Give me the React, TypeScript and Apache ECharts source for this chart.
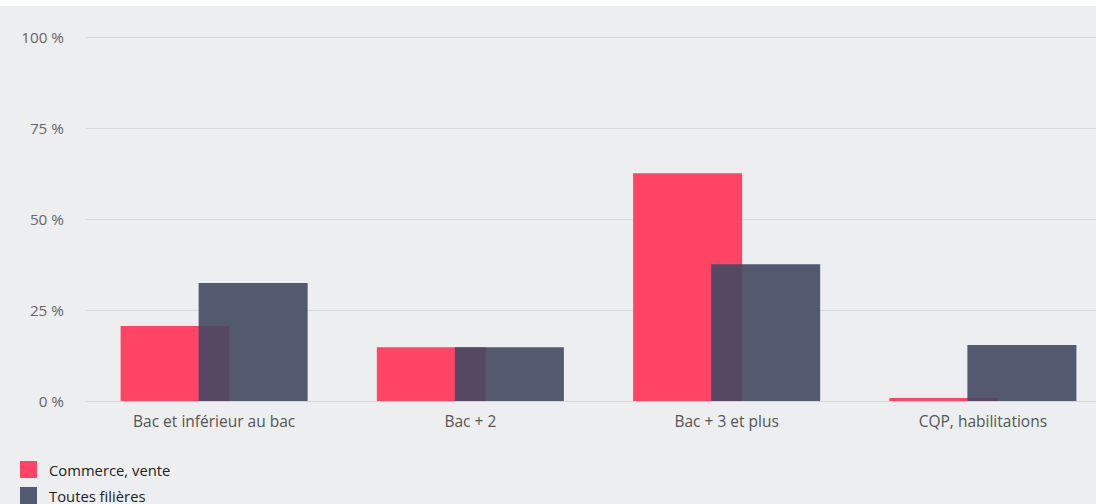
import React, { useEffect, useRef } from "react";
import * as echarts from "echarts";

const categories = ["Bac et inférieur au bac", "Bac + 2", "Bac + 3 et plus", "CQP, habilitations"];
const commerceVente = [20.6, 14.8, 62.6, 0.8];
const toutesFilieres = [32.4, 14.8, 37.6, 15.4];
const seriesNames = ["Commerce, vente", "Toutes filières"];

export default function App() {
  const ref = useRef<HTMLDivElement>(null);
  useEffect(() => {
    document.body.style.margin = "0";
    document.body.style.overflow = "hidden";
    const chart = echarts.init(ref.current!, null, { renderer: "svg" });
    const legendBase = {
      left: 20,
      itemWidth: 17,
      itemHeight: 17,
      icon: "rect",
      padding: 0,
      textStyle: { color: "#222", fontSize: 14.8, fontFamily: "Open Sans", padding: [0, 0, 0, 7] },
    };
    chart.setOption({
      animation: false,
      backgroundColor: "#eceef0",
      textStyle: { fontFamily: "Open Sans" },
      graphic: [
        { type: "rect", left: 0, top: 0, shape: { width: 1120, height: 6 }, style: { fill: "#ffffff" }, silent: true },
      ],
      legend: [
        { ...legendBase, top: 461, data: [seriesNames[0]] },
        { ...legendBase, top: 487, data: [seriesNames[1]] },
      ],
      grid: { left: 86, right: 0, top: 37, height: 364, containLabel: false },
      xAxis: {
        type: "category",
        data: categories,
        axisLine: { lineStyle: { color: "#ccd6eb", width: 1 } },
        axisTick: { show: false },
        axisLabel: { color: "#555", fontSize: 15.5, margin: 12, fontFamily: "Open Sans" },
      },
      yAxis: {
        type: "value",
        min: 0,
        max: 100,
        interval: 25,
        axisLabel: { formatter: "{value} %", color: "#666", fontSize: 15.3, margin: 22, fontFamily: "Open Sans" },
        splitLine: { lineStyle: { color: "#d5dadd", width: 1 } },
        axisLine: { show: false },
        axisTick: { show: false },
      },
      series: [
        {
          name: seriesNames[0],
          type: "bar",
          data: commerceVente,
          barWidth: 109,
          barGap: "-28.4%",
          itemStyle: { color: "#ff4466" },
        },
        {
          name: seriesNames[1],
          type: "bar",
          data: toutesFilieres,
          barWidth: 109,
          itemStyle: { color: "rgba(66,73,98,0.9)" },
        },
      ],
    });
    return () => chart.dispose();
  }, []);
  return <div ref={ref} style={{ position: "fixed", left: 0, top: 0, width: 1111, height: 504 }} />;
}
